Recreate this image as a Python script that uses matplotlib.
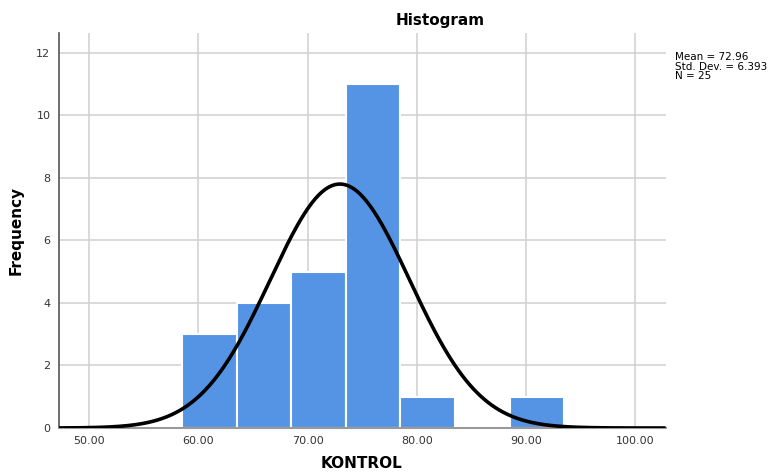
import numpy as np
import matplotlib
matplotlib.use("Agg")
import matplotlib.pyplot as plt

bin_edges = [58.5, 63.5, 68.5, 73.5, 78.5, 83.5, 88.5, 93.5]
counts = [3, 4, 5, 11, 1, 0, 1]
mean = 72.96
sd = 6.393
n = 25
xticks = [50, 60, 70, 80, 90, 100]
xticklabels = ["50.00", "60.00", "70.00", "80.00", "90.00", "100.00"]
yticks = [0, 2, 4, 6, 8, 10, 12]

fig = plt.figure(figsize=(7.74, 4.72), dpi=100)
ax = fig.add_axes([0.0758, 0.0932, 0.7842, 0.8362])
ax.set_xlim(47.2, 102.8)
ax.set_ylim(0, 12.62)

for v in xticks:
    ax.axvline(v, color="#d0d0d0", lw=1.1, zorder=0)
for v in yticks:
    ax.axhline(v, color="#d0d0d0", lw=1.1, zorder=0)

lefts = bin_edges[:-1]
widths = np.diff(bin_edges)
ax.bar(lefts, counts, width=widths, align="edge", color="#5594E4",
       edgecolor="white", linewidth=1.5, zorder=2)

bw = widths[0]
xs = np.linspace(47.2, 102.8, 500)
ys = n * bw / (sd * np.sqrt(2 * np.pi)) * np.exp(-0.5 * ((xs - mean) / sd) ** 2)
ax.plot(xs, ys, color="black", lw=2.6, zorder=3, solid_capstyle="butt")

ax.set_xticks(xticks)
ax.set_xticklabels(xticklabels)
ax.set_yticks(yticks)
ax.tick_params(length=0, labelsize=8, colors="#333333", pad=6)
for s in ["top", "right"]:
    ax.spines[s].set_visible(False)
ax.spines["left"].set_color("#555555")
ax.spines["bottom"].set_color("#999999")
ax.spines["left"].set_linewidth(1.2)
ax.spines["bottom"].set_linewidth(1.5)

fig.text(440 / 774, 1 - 20 / 472, "Histogram", ha="center", va="center",
         fontsize=11, fontweight="bold")
fig.text(16 / 774, 1 - 230 / 472, "Frequency", ha="center", va="center",
         rotation=90, fontsize=11, fontweight="bold")
fig.text(362 / 774, 1 - 464 / 472, "KONTROL", ha="center", va="center",
         fontsize=11, fontweight="bold")
fig.text(675 / 774, 1 - 52 / 472,
         f"Mean = {mean:.2f}\nStd. Dev. = {sd:.3f}\nN = {n}",
         ha="left", va="top", fontsize=7.5, linespacing=0.95)

fig.savefig("out.png", dpi=100)
